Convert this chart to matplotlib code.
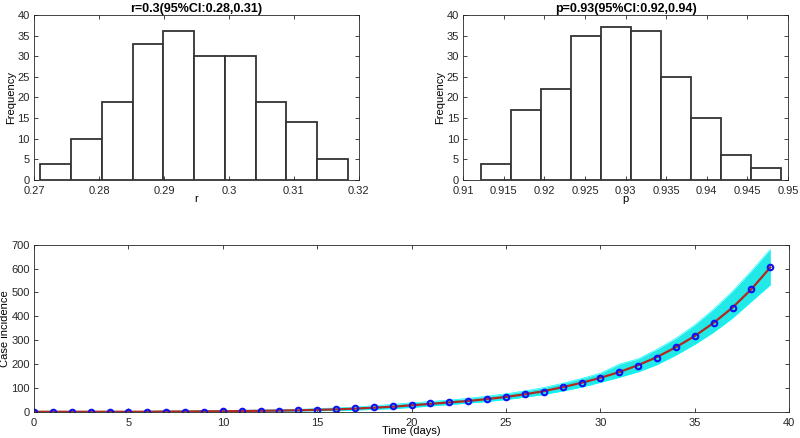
import numpy as np
import matplotlib.pyplot as plt
from matplotlib.ticker import FuncFormatter, MultipleLocator

plt.rcParams['font.family'] = ['Liberation Sans', 'DejaVu Sans']
plt.rcParams['font.size'] = 8

# histogram of r
r_edges = [0.2710, 0.27573, 0.28046, 0.28519, 0.28992, 0.29465,
           0.29938, 0.30411, 0.30884, 0.31357, 0.3183]
r_counts = [4, 10, 19, 33, 36, 30, 30, 19, 14, 5]

# histogram of p
p_edges = [0.9122, 0.91589, 0.91958, 0.92327, 0.92696, 0.93065,
           0.93434, 0.93803, 0.94172, 0.94541, 0.9491]
p_counts = [4, 17, 22, 35, 37, 36, 25, 15, 6, 3]

# daily incidence
days = list(range(40))
cases = [1, 0, 0, 0, 0, 0, 1, 2, 2, 2, 3, 5, 5, 6, 8, 9, 12, 15, 19, 25,
         29, 36, 42, 46, 53, 63, 74, 85, 106, 120, 141, 166, 193, 226, 270,
         316, 372, 436, 514, 605]
fit = [1, 1, 1, 1, 1, 1, 1, 2, 2, 3, 3, 4, 5, 6, 7, 9, 11, 14, 18, 22,
       28, 34, 40, 46, 54, 63, 74, 87, 104, 122, 143, 167, 196, 230, 271,
       318, 373, 437, 514, 605]
band_hi = [2, 2, 2, 2, 2, 2, 3, 4, 4, 5, 6, 7, 8, 9, 11, 14, 17, 21, 26, 32,
           38, 44, 50, 57, 66, 76, 88, 102, 120, 140, 162, 200, 222, 262, 308,
           364, 430, 505, 590, 680]
band_lo = [0, 0, 0, 0, 0, 0, 0, 1, 1, 1, 1, 2, 2, 3, 4, 5, 6, 8, 11, 14,
           19, 25, 31, 37, 44, 52, 62, 73, 88, 104, 124, 145, 168, 198, 238,
           283, 334, 393, 463, 532]

AX_COL = '#262626'
fmt = FuncFormatter(lambda v, pos: '%g' % round(v, 4))


def style(ax):
    for s in ax.spines.values():
        s.set_color(AX_COL)
        s.set_linewidth(0.6)
    ax.tick_params(direction='in', top=True, right=True, length=3,
                   width=0.6, colors=AX_COL, labelsize=8, pad=3)
    ax.tick_params(axis='x', pad=4)


fig = plt.figure(figsize=(8, 4.38), dpi=100)
ax1 = fig.add_axes([0.0425, 0.589, 0.406, 0.377])
ax2 = fig.add_axes([0.579, 0.589, 0.406, 0.377])
ax3 = fig.add_axes([0.0425, 0.0594, 0.944, 0.382])

for ax, edges, counts, lims, step, lab, title in [
        (ax1, r_edges, r_counts, (0.27, 0.32), 0.01, 'r', 'r=0.3(95%CI:0.28,0.31)'),
        (ax2, p_edges, p_counts, (0.91, 0.95), 0.005, 'p', 'p=0.93(95%CI:0.92,0.94)')]:
    ax.bar(edges[:-1], counts, width=np.diff(edges), align='edge',
           facecolor='white', edgecolor='#333333', linewidth=1.3)
    ax.set_xlim(*lims)
    ax.set_ylim(0, 40)
    ax.xaxis.set_major_locator(MultipleLocator(step))
    ax.yaxis.set_major_locator(MultipleLocator(5))
    ax.xaxis.set_major_formatter(fmt)
    ax.set_xlabel(lab, labelpad=-1)
    ax.set_ylabel('Frequency', labelpad=1)
    ax.set_title(title, fontweight='bold', fontsize=9, pad=2)
    style(ax)

ax3.fill_between(days, band_lo, band_hi, color='#22e8e8', linewidth=0)
ax3.plot(days, band_hi, color='#00ffff', lw=0.5)
ax3.plot(days, band_lo, color='#00ffff', lw=0.5)
ax3.plot(days, fit, color='#b02a20', lw=1.6)
ax3.plot(days, cases, 'o', mfc='none', mec='#1010f0', mew=1.5, ms=4)
ax3.set_xlim(0, 40)
ax3.set_ylim(0, 700)
ax3.xaxis.set_major_locator(MultipleLocator(5))
ax3.yaxis.set_major_locator(MultipleLocator(100))
ax3.set_xlabel('Time (days)', labelpad=-1)
ax3.set_ylabel('Case incidence', labelpad=1)
style(ax3)

fig.savefig('out.png', dpi=100)
